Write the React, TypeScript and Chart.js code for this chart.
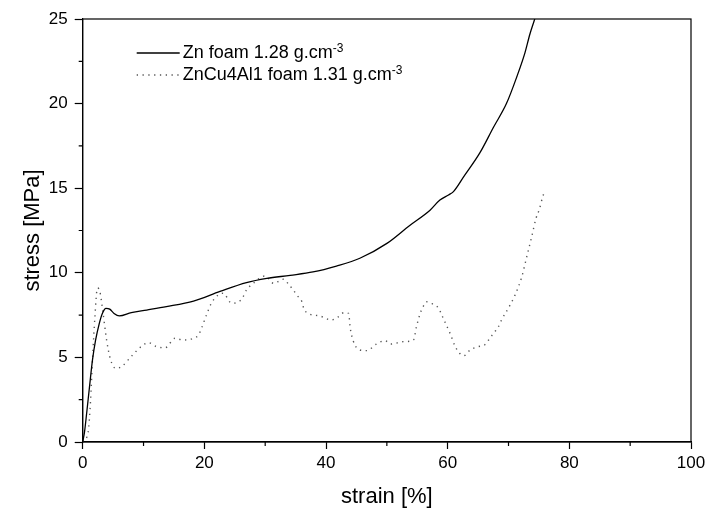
import React, { useEffect, useRef } from "react";
import { Chart, registerables } from "chart.js";

Chart.register(...registerables);

// Zn foam 1.28 g.cm-3
const znStrain = [0, 0.3, 0.65, 1.1, 1.61, 2.11, 2.72, 3.23, 3.83, 4.44, 5.15, 6.01, 7.99, 10.52, 13.76, 18.22, 22.57, 26.92, 30.27, 34.11, 37.86, 41.71, 45.56, 50.01, 53.76, 57.1, 58.72, 60.14, 60.95, 62.67, 65.31, 67.53, 69.66, 71.38, 72.7, 73.51, 74.22, 74.82];
const znStress = [0, 0.6, 1.7, 3.2, 4.85, 6.0, 7.0, 7.6, 7.9, 7.85, 7.6, 7.45, 7.65, 7.8, 8.0, 8.33, 8.9, 9.42, 9.67, 9.85, 10.05, 10.4, 10.86, 11.74, 12.8, 13.7, 14.3, 14.6, 14.8, 15.7, 17.1, 18.6, 20.0, 21.6, 23.0, 24.1, 24.9, 25.6];

// ZnCu4Al1 foam 1.31 g.cm-3
const alStrain = [0, 0.9, 1.3, 1.61, 2.01, 2.42, 2.82, 3.28, 3.94, 4.59, 5.45, 6.37, 8.04, 9.71, 10.82, 12.14, 13.56, 15.18, 16.49, 18.22, 19.02, 19.53, 20.34, 21.15, 22.26, 23.08, 24.49, 26.11, 26.92, 28.04, 29.96, 31.38, 33.0, 33.81, 34.62, 35.33, 36.04, 36.34, 37.05, 38.97, 40.9, 42.01, 42.92, 43.73, 43.94, 44.14, 44.75, 45.56, 46.67, 48.29, 49.71, 50.62, 52.75, 54.37, 54.87, 55.48, 55.89, 56.5, 57.51, 58.52, 59.03, 59.94, 60.44, 61.26, 61.96, 62.67, 63.69, 65.0, 66.11, 66.93, 67.53, 68.34, 68.85, 69.96, 71.08, 72.19, 73.0, 73.81, 74.52, 75.03, 75.63, 76.04];
const alStress = [0, 0.6, 2.5, 4.85, 7.4, 9.1, 8.9, 7.8, 6.0, 4.85, 4.35, 4.45, 5.08, 5.67, 5.87, 5.63, 5.57, 6.13, 6.03, 6.13, 6.32, 6.72, 7.5, 8.2, 8.69, 8.79, 8.2, 8.43, 8.98, 9.38, 9.81, 9.38, 9.62, 9.34, 8.98, 8.63, 8.29, 7.9, 7.6, 7.45, 7.21, 7.4, 7.64, 7.6, 6.86, 6.42, 5.73, 5.44, 5.4, 5.79, 5.99, 5.79, 5.93, 6.03, 6.81, 7.6, 7.94, 8.29, 8.16, 7.9, 7.5, 6.78, 6.38, 5.63, 5.24, 5.1, 5.44, 5.63, 5.75, 6.13, 6.42, 6.81, 7.21, 7.9, 8.69, 9.77, 10.95, 12.13, 13.22, 13.7, 14.5, 14.85];

const seriesLabels = ["Zn foam 1.28 g.cm", "ZnCu4Al1 foam 1.31 g.cm"];
const seriesSup = ["-3", "-3"];
const xTitle = "strain [%]";
const yTitle = "stress [MPa]";

const FONT = '"Liberation Sans", Arial, sans-serif';

const toPoints = (xs: number[], ys: number[]) => xs.map((x, i) => ({ x, y: ys[i] }));

const MINOR_LEN = 4;

const frameAndLegend = {
  id: "frameAndLegend",
  afterDraw(chart: any) {
    const { ctx, chartArea } = chart;
    ctx.save();
    ctx.strokeStyle = "#000";
    ctx.lineWidth = 1.2;
    ctx.setLineDash([]);
    ctx.strokeRect(chartArea.left, chartArea.top, chartArea.right - chartArea.left, chartArea.bottom - chartArea.top);

    // minor ticks (unlabelled ticks)
    const xs = chart.scales.x;
    const ys = chart.scales.y;
    ctx.beginPath();
    xs.ticks.forEach((t: any) => {
      if (t.label === "") {
        const px = xs.getPixelForValue(t.value);
        ctx.moveTo(px, chartArea.bottom);
        ctx.lineTo(px, chartArea.bottom + MINOR_LEN);
      }
    });
    ys.ticks.forEach((t: any) => {
      if (t.label === "") {
        const py = ys.getPixelForValue(t.value);
        ctx.moveTo(chartArea.left, py);
        ctx.lineTo(chartArea.left - MINOR_LEN, py);
      }
    });
    ctx.stroke();

    const ds = chart.data.datasets;
    ds.forEach((d: any, i: number) => {
      const y = chartArea.top + 34 + i * 22;
      const x0 = chartArea.left + 54;
      ctx.beginPath();
      ctx.strokeStyle = d.borderColor;
      ctx.lineWidth = d.borderWidth;
      ctx.setLineDash(d.borderDash || []);
      ctx.moveTo(x0, y);
      ctx.lineTo(x0 + 43, y);
      ctx.stroke();
      ctx.setLineDash([]);
      ctx.fillStyle = "#000";
      ctx.textAlign = "left";
      ctx.textBaseline = "middle";
      ctx.font = `18px ${FONT}`;
      ctx.fillText(seriesLabels[i], x0 + 46, y);
      const w = ctx.measureText(seriesLabels[i]).width;
      ctx.font = `12px ${FONT}`;
      ctx.fillText(seriesSup[i], x0 + 46 + w, y - 4);
    });
    ctx.restore();
  },
};

const majorOnlyColor = (c: any) => (c.tick && c.tick.label === "" ? "rgba(0,0,0,0)" : "#000");

export default function App() {
  const ref = useRef<HTMLCanvasElement | null>(null);
  useEffect(() => {
    document.body.style.margin = "0";
    const chart = new Chart(ref.current as HTMLCanvasElement, {
      type: "line",
      data: {
        datasets: [
          {
            label: seriesLabels[0],
            data: toPoints(znStrain, znStress),
            borderColor: "#000",
            borderWidth: 1.3,
            pointRadius: 0,
            cubicInterpolationMode: "monotone",
            fill: false,
          },
          {
            label: seriesLabels[1],
            data: toPoints(alStrain, alStress),
            borderColor: "#555",
            borderWidth: 1.4,
            borderDash: [1.3, 4.5],
            pointRadius: 0,
            cubicInterpolationMode: "monotone",
            fill: false,
          },
        ],
      },
      options: {
        responsive: false,
        animation: false,
        layout: { padding: { top: 19, right: 22, left: 0, bottom: 0 } },
        plugins: { legend: { display: false }, tooltip: { enabled: false } },
        scales: {
          x: {
            type: "linear",
            min: 0,
            max: 100,
            afterFit: (s: any) => {
              s.height = 76;
            },
            border: { display: true, color: "#000", width: 1.2 },
            grid: { drawOnChartArea: false, drawTicks: true, tickLength: 7, color: "#000", tickColor: majorOnlyColor, tickWidth: 1.2 },
            ticks: {
              stepSize: 10,
              padding: 4,
              color: "#000",
              font: { size: 17, family: FONT },
              maxRotation: 0,
              autoSkip: false,
              callback: (v: any) => (Number(v) % 20 === 0 ? String(v) : ""),
            },
            title: { display: true, text: xTitle, color: "#000", font: { size: 22, family: FONT }, padding: { top: 0, bottom: 8 } },
          },
          y: {
            type: "linear",
            min: 0,
            max: 25,
            afterFit: (s: any) => {
              s.width = 82.7;
            },
            border: { display: true, color: "#000", width: 1.2 },
            grid: { drawOnChartArea: false, drawTicks: true, tickLength: 8, color: "#000", tickColor: majorOnlyColor, tickWidth: 1.2 },
            ticks: {
              stepSize: 2.5,
              padding: 7,
              color: "#000",
              font: { size: 17, family: FONT },
              autoSkip: false,
              callback: (v: any) => (Number(v) % 5 === 0 ? String(v) : ""),
            },
            title: { display: true, text: yTitle, color: "#000", font: { size: 22, family: FONT }, padding: { top: 20, bottom: 0 } },
          },
        },
      },
      plugins: [frameAndLegend],
    } as any);
    return () => chart.destroy();
  }, []);
  return (
    <div style={{ position: "absolute", left: 0, top: 0, width: 713, height: 518, background: "#fff" }}>
      <canvas ref={ref} width={713} height={518} />
    </div>
  );
}
